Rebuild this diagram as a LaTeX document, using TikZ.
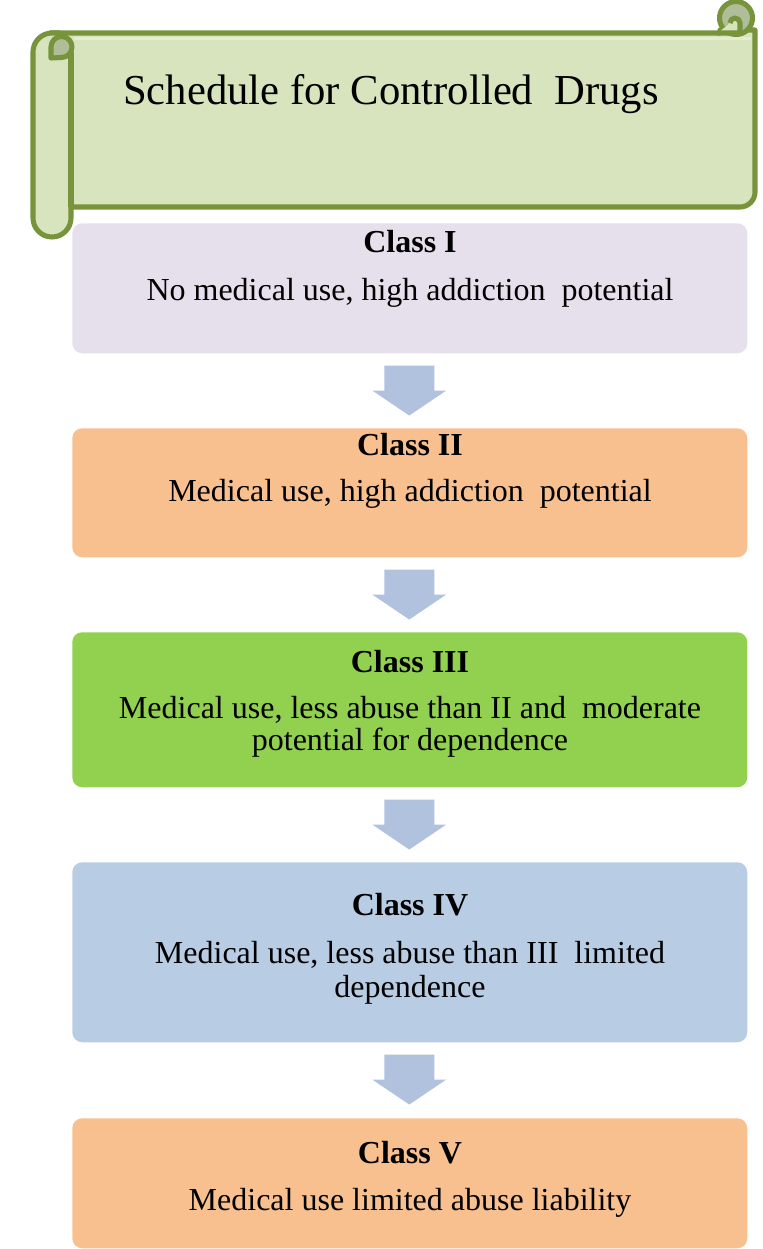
\documentclass[tikz,border=0pt]{standalone}
\usepackage{fontspec}
\setmainfont{Liberation Serif}
\usetikzlibrary{calc}
\definecolor{scrollline}{HTML}{77933C}
\definecolor{scrollfill}{HTML}{D7E4BD}
\definecolor{curlfill}{HTML}{AFBD98}
\definecolor{cOne}{HTML}{E5E0EC}
\definecolor{cTwo}{HTML}{F8C08F}
\definecolor{cThree}{HTML}{92D050}
\definecolor{cFour}{HTML}{B8CCE4}
\definecolor{arrowc}{HTML}{B0C2DE}
\tikzset{
  classbox/.style={rectangle, rounded corners=7.5pt, draw=none, minimum width=506.25pt, inner sep=0pt, anchor=north west},
  headtxt/.style={anchor=base, font=\fontsize{24}{27}\selectfont\bfseries, inner sep=0pt},
  bodytxt/.style={anchor=base, font=\fontsize{24}{27}\selectfont, inner sep=0pt},
  blockarrow/.style={fill=arrowc, draw=none},
  scrollpart/.style={draw=scrollline, line width=3.8pt, line join=round},
}
\begin{document}
\begin{tikzpicture}[x=0.75pt, y=-0.75pt]
\useasboundingbox (0,0) rectangle (763,1249);
% ---------- scroll ----------
\path[scrollpart, fill=scrollfill] (50,33) -- (720,33) -- (720,30) -- (755,30) -- (755,192) arc[start angle=0, end angle=90, radius=15] -- (60,207) -- cycle;
\fill[white, opacity=0.35] (74,37) rectangle (751,40);
% left roll
\path[scrollpart, fill=scrollfill] (71,207) -- (71,218) arc[start angle=0, end angle=180, radius=19] -- (33,52) arc[start angle=180, end angle=270, radius=19] -- (60,33);
\path[scrollpart] (71,52) -- (71,207);
% left curl
\path[scrollpart, fill=curlfill] (51,58) -- (51,47) arc[start angle=180, end angle=450, radius=10.5] -- cycle;
% right curl
\path[scrollpart, fill=curlfill] (736,18) circle[radius=16.5];
\path[scrollpart, fill=scrollfill] (718,33) -- (740,33) -- (740,23) arc[start angle=0, end angle=-180, radius=5];
\node[anchor=base west, inner sep=0pt, font=\fontsize{32}{36}\selectfont] (title) at (123,104) {Schedule for Controlled~ Drugs};
% ---------- class boxes ----------
\node[classbox, fill=cOne, minimum height=97.5pt] (c1) at (72,223) {};
\node[classbox, fill=cTwo, minimum height=96.75pt] (c2) at (72,428) {};
\node[classbox, fill=cThree, minimum height=116.25pt] (c3) at (72,632) {};
\node[classbox, fill=cFour, minimum height=135pt] (c4) at (72,862) {};
\node[classbox, fill=cTwo, minimum height=97.5pt] (c5) at (72,1118) {};
% texts
\node[headtxt] (h1) at (410,252) {Class I};
\node[bodytxt] (b1) at (410,300) {No medical use, high addiction~ potential};
\node[headtxt] (h2) at (410,455) {Class II};
\node[bodytxt] (b2) at (410,501) {Medical use, high addiction~ potential};
\node[headtxt] (h3) at (410,672) {Class III};
\node[bodytxt] (b3a) at (410,718) {Medical use, less abuse than II and~ moderate};
\node[bodytxt] (b3b) at (410,750) {potential for dependence};
\node[headtxt] (h4) at (410,915) {Class IV};
\node[bodytxt] (b4a) at (410,963) {Medical use, less abuse than III~ limited};
\node[bodytxt] (b4b) at (410,997) {dependence};
\node[headtxt] (h5) at (410,1163) {Class V};
\node[bodytxt] (b5) at (410,1210) {Medical use limited abuse liability};
% ---------- block arrows ----------
\foreach \a in {c1,c2,c3,c4}{
  \coordinate (t) at ($(\a.south)+(-0.5,12)$);
  \fill[blockarrow] ($(t)+(-25,0)$) -- ($(t)+(25,0)$) -- ($(t)+(25,25)$) -- ($(t)+(37,25)$)
     -- ($(t)+(0,50)$) -- ($(t)+(-37,25)$) -- ($(t)+(-25,25)$) -- cycle;
}
\end{tikzpicture}
\end{document}
